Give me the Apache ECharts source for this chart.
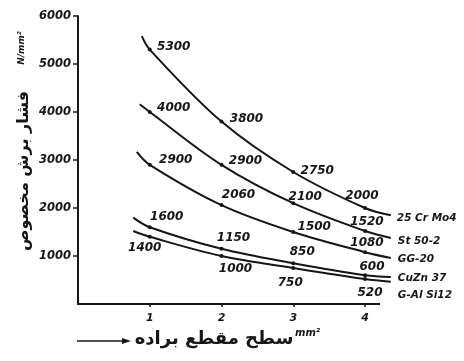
<!DOCTYPE html>
<html>
<head>
<meta charset="utf-8">
<script src="https://cdn.jsdelivr.net/npm/echarts@6/dist/echarts.min.js"></script>
<style>
  html, body { margin: 0; padding: 0; background: #fff; }
  #chart { width: 464px; height: 361px; }
</style>
</head>
<body>
<div id="chart"></div>
<script>
// Chip cross-section (mm²) at which the specific cutting force is tabulated
const sections = [1, 2, 3, 4];

// Specific cutting force (N/mm²) per material
const names = ['25 Cr Mo4', 'St 50-2', 'GG-20', 'CuZn 37', 'G-Al Si12'];
const crMo4 = [5300, 3800, 2750, 2000];
const st50 = [4000, 2900, 2100, 1520];
const gg20 = [2900, 2060, 1500, 1080];
const cuZn37 = [1600, 1150, 850, 600];
const alSi12 = [1400, 1000, 750, 520];

// Where each drawn curve begins and ends beyond the tabulated points
const curveStartX = [0.89, 0.86, 0.82, 0.77, 0.77];
const curveStartY = [5580, 4160, 3170, 1800, 1520];
const curveEndX = [4.36, 4.36, 4.36, 4.36, 4.36];
const curveEndY = [1850, 1375, 960, 565, 465];

// Axis ticks
const yTicks = [1000, 2000, 3000, 4000, 5000, 6000];
const xTicks = [1, 2, 3, 4];

// Label placement (pixel offsets from each point / curve end)
const pointLabelOffsets = [
  [[24, -3], [25, -3], [24, -1], [-3, -12]],
  [[24, -4], [24, -4], [12, -6], [2, -9]],
  [[26, -5], [17, -10], [21, -5], [2, -9]],
  [[17, -10], [12, -11], [9, -11], [7, -8]],
  [[-5, 11], [14, 13], [-3, 15], [5, 14]]
];
const endLabelOffsets = [[6, 3], [7, 3], [7, 1], [7, 1], [7, 14]];

const values = [crMo4, st50, gg20, cuZn37, alSi12];
const ink = '#161616';

// Plot frame: x runs 0..4.42 so the curves can run past the last tick,
// while the drawn x-axis line stops at 4.21.
const plotLeft = 78, plotTop = 16, plotHeight = 288;
const pxPerSection = 71.75;
const xMax = 4.42, xLineEnd = 4.21;

const series = values.map((vals, i) => {
  const data = [{ value: [curveStartX[i], curveStartY[i]], symbol: 'none', label: { show: false } }];
  vals.forEach((v, j) => {
    data.push({
      value: [sections[j], v],
      label: { offset: pointLabelOffsets[i][j] }
    });
  });
  data.push({ value: [curveEndX[i], curveEndY[i]], symbol: 'none', label: { show: false } });
  return {
    name: names[i],
    type: 'line',
    data: data,
    smooth: 0.35,
    clip: false,
    symbol: 'circle',
    symbolSize: 4,
    itemStyle: { color: ink },
    lineStyle: { color: ink, width: 2 },
    label: {
      show: true,
      position: 'inside',
      formatter: p => String(p.value[1]),
      fontFamily: 'DejaVu Sans',
      fontStyle: 'italic',
      fontWeight: 'bold',
      fontSize: 12,
      color: ink
    },
    endLabel: {
      show: true,
      formatter: names[i],
      distance: 0,
      offset: endLabelOffsets[i],
      fontFamily: 'DejaVu Sans',
      fontStyle: 'italic',
      fontWeight: 'bold',
      fontSize: 10.5,
      color: ink
    },
    emphasis: { disabled: true },
    animation: false
  };
});

const chart = echarts.init(document.getElementById('chart'), null, { renderer: 'canvas' });
chart.setOption({
  backgroundColor: '#ffffff',
  animation: false,
  grid: { left: plotLeft, top: plotTop, width: pxPerSection * xMax, height: plotHeight },
  xAxis: {
    type: 'value',
    min: 0,
    max: xMax,
    splitLine: { show: false },
    axisLine: { show: false },
    axisTick: { customValues: xTicks, length: 3, lineStyle: { color: ink, width: 1.5 } },
    axisLabel: {
      customValues: xTicks,
      margin: 9,
      fontFamily: 'DejaVu Sans',
      fontStyle: 'italic',
      fontWeight: 'bold',
      fontSize: 11,
      color: ink
    }
  },
  yAxis: {
    type: 'value',
    min: 0,
    max: 6000,
    splitLine: { show: false },
    axisLine: { show: true, lineStyle: { color: ink, width: 2 } },
    axisTick: { customValues: yTicks, length: 5, lineStyle: { color: ink, width: 1.5 } },
    axisLabel: {
      customValues: yTicks,
      margin: 7,
      formatter: v => String(v),
      fontFamily: 'DejaVu Sans',
      fontStyle: 'italic',
      fontWeight: 'bold',
      fontSize: 11.5,
      color: ink
    }
  },
  graphic: [
    {
      type: 'line',
      shape: {
        x1: plotLeft - 1, y1: plotTop + plotHeight,
        x2: plotLeft + pxPerSection * xLineEnd, y2: plotTop + plotHeight
      },
      style: { stroke: ink, lineWidth: 2 }
    },
    {
      type: 'text',
      x: 24, y: 171,
      rotation: Math.PI / 2,
      style: {
        text: 'فشار برش مخصوص',
        font: 'bold 16px "DejaVu Sans"',
        fill: ink,
        align: 'center',
        verticalAlign: 'middle'
      }
    },
    {
      type: 'text',
      x: 22, y: 48,
      rotation: Math.PI / 2,
      style: {
        text: 'N/mm²',
        font: 'italic bold 9px "DejaVu Sans"',
        fill: ink,
        align: 'center',
        verticalAlign: 'middle'
      }
    },
    {
      type: 'text',
      x: 214, y: 339,
      style: {
        text: 'سطح مقطع براده',
        font: 'bold 18px "DejaVu Sans"',
        fill: ink,
        align: 'center',
        verticalAlign: 'middle'
      }
    },
    {
      type: 'text',
      x: 295, y: 333,
      style: {
        text: 'mm²',
        font: 'italic bold 10px "DejaVu Sans"',
        fill: ink,
        align: 'left',
        verticalAlign: 'middle'
      }
    },
    {
      type: 'line',
      shape: { x1: 77, y1: 341, x2: 124, y2: 341 },
      style: { stroke: ink, lineWidth: 1.5 }
    },
    {
      type: 'polygon',
      shape: { points: [[122, 338], [131, 341], [122, 344]] },
      style: { fill: ink }
    }
  ],
  series: series
});
</script>
</body>
</html>
